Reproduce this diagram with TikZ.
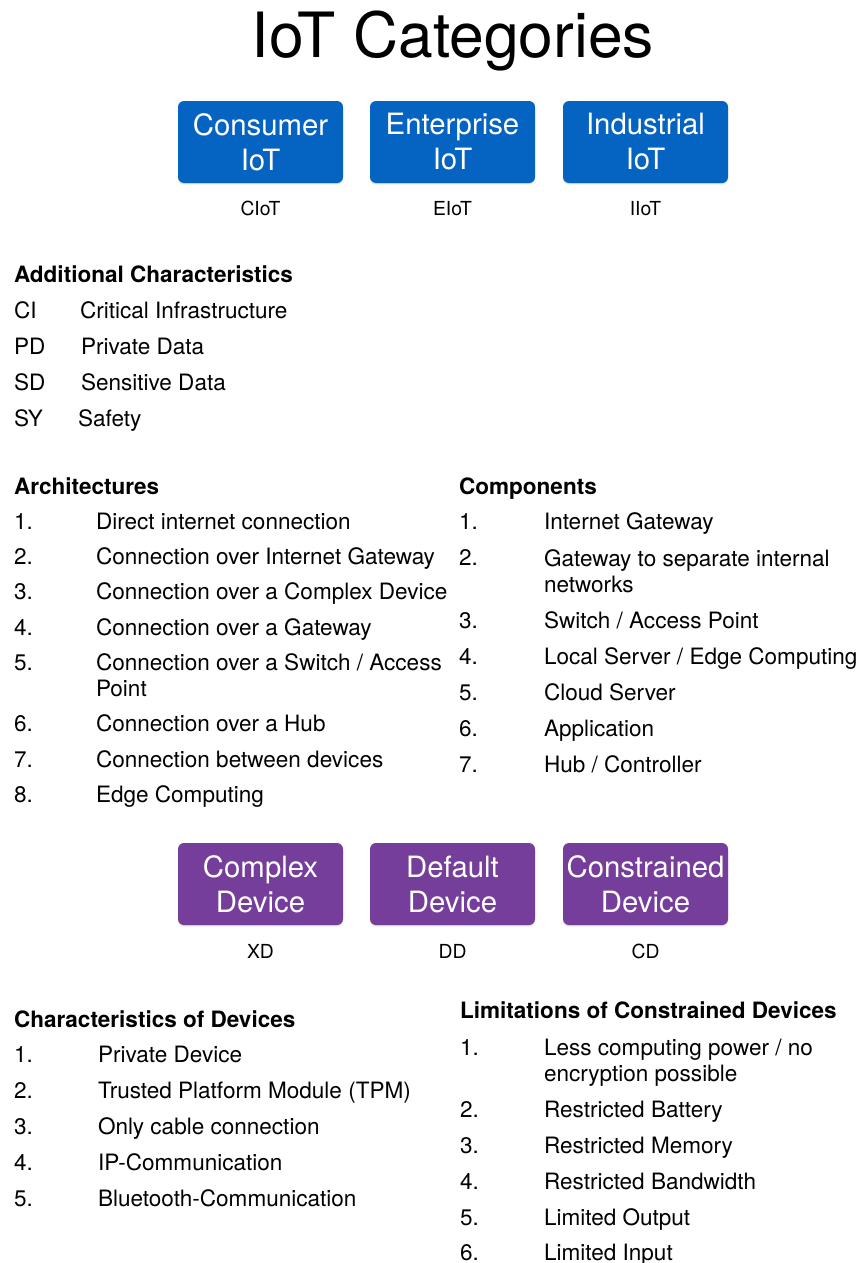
\documentclass[tikz,border=0pt]{standalone}
\usepackage{fontspec}
\setmainfont{TeX Gyre Heros}
\usetikzlibrary{shadows}
\definecolor{catblue}{RGB}{5,99,193}
\definecolor{devpurple}{RGB}{118,62,155}

\begin{document}
\begin{tikzpicture}[x=0.75pt,y=-0.75pt,
  every node/.style={inner sep=0pt, outer sep=0pt},
  title/.style={font=\fontsize{46.8}{50}\selectfont, anchor=base},
  card/.style={rounded corners=4.5pt, minimum width=123.75pt, minimum height=61.5pt,
    text=white, align=center, font=\fontsize{22}{26.25}\selectfont,
    drop shadow={shadow xshift=0pt, shadow yshift=-1pt, opacity=0.25}},
  abbr/.style={font=\fontsize{14.5}{17}\selectfont, anchor=base},
  head/.style={font=\fontsize{16.9}{19.5}\selectfont\bfseries, anchor=base west},
  body/.style={font=\fontsize{16.9}{19.5}\selectfont, anchor=base west, align=left}
]
\useasboundingbox (0,0) rectangle (861,1263);

% title
\node[title] (title) at (453,58) {IoT Categories};

% IoT categories
\node[card, fill=catblue] (ciot) at (260.5,142) {Consumer\\IoT};
\node[card, fill=catblue] (eiot) at (452.5,142) {Enterprise\\IoT};
\node[card, fill=catblue] (iiot) at (645.5,142) {Industrial\\IoT};
\node[abbr] (ciotl) at (260.5,215) {CIoT};
\node[abbr] (eiotl) at (452.5,215) {EIoT};
\node[abbr] (iiotl) at (645.5,215) {IIoT};

% additional characteristics
\node[head] (addh) at (14,282) {Additional Characteristics};
\node[body] (ci)  at (14,318) {CI};
\node[body] (cit) at (80,318) {Critical Infrastructure};
\node[body] (pd)  at (14,354) {PD};
\node[body] (pdt) at (81,354) {Private Data};
\node[body] (sd)  at (14,390) {SD};
\node[body] (sdt) at (81,390) {Sensitive Data};
\node[body] (sy)  at (14,426) {SY};
\node[body] (syt) at (78,426) {Safety};

% architectures (a two-line entry sits on the baseline of its last line)
\node[head] (archh) at (14,494) {Architectures};
\foreach \y/\t [count=\i] in {
  529/{Direct internet connection},
  564/{Connection over Internet Gateway},
  599/{Connection over a Complex Device},
  635/{Connection over a Gateway},
  696/{Connection over a Switch / Access\\Point},
  731/{Connection over a Hub},
  767/{Connection between devices},
  802/{Edge Computing}} {
  \node[body] (arch\i) at (96,\y) {\t};
}
\foreach \y [count=\i] in {529,564,599,635,670,731,767,802}
  \node[body] (archn\i) at (14,\y) {\i.};

% components
\node[head] (comph) at (459,494) {Components};
\foreach \y/\t [count=\i] in {
  529/{Internet Gateway},
  592/{Gateway to separate internal\\networks},
  628/{Switch / Access Point},
  664/{Local Server / Edge Computing},
  700/{Cloud Server},
  736/{Application},
  772/{Hub / Controller}} {
  \node[body] (comp\i) at (544,\y) {\t};
}
\foreach \y [count=\i] in {529,565,628,664,700,736,772}
  \node[body] (compn\i) at (459,\y) {\i.};

% device classes
\node[card, fill=devpurple] (xd) at (260.5,884) {Complex\\Device};
\node[card, fill=devpurple] (dd) at (452.5,884) {Default\\Device};
\node[card, fill=devpurple] (cd) at (645.5,884) {Constrained\\Device};
\node[abbr] (xdl) at (260.5,958) {XD};
\node[abbr] (ddl) at (452.5,958) {DD};
\node[abbr] (cdl) at (645.5,958) {CD};

% characteristics of devices
\node[head] (charh) at (14,1027) {Characteristics of Devices};
\foreach \y/\t [count=\i] in {
  1062/{Private Device},
  1098/{Trusted Platform Module (TPM)},
  1134/{Only cable connection},
  1170/{IP-Communication},
  1206/{Bluetooth-Communication}} {
  \node[body] (charn\i) at (14,\y) {\i.};
  \node[body] (char\i) at (98,\y) {\t};
}

% limitations of constrained devices
\node[head] (limh) at (460,1018) {Limitations of Constrained Devices};
\foreach \y/\t [count=\i] in {
  1081/{Less computing power / no\\encryption possible},
  1117/{Restricted Battery},
  1153/{Restricted Memory},
  1189/{Restricted Bandwidth},
  1225/{Limited Output},
  1260/{Limited Input}} {
  \node[body] (lim\i) at (544,\y) {\t};
}
\foreach \y [count=\i] in {1055,1117,1153,1189,1225,1260}
  \node[body] (limn\i) at (460,\y) {\i.};
\end{tikzpicture}
\end{document}
